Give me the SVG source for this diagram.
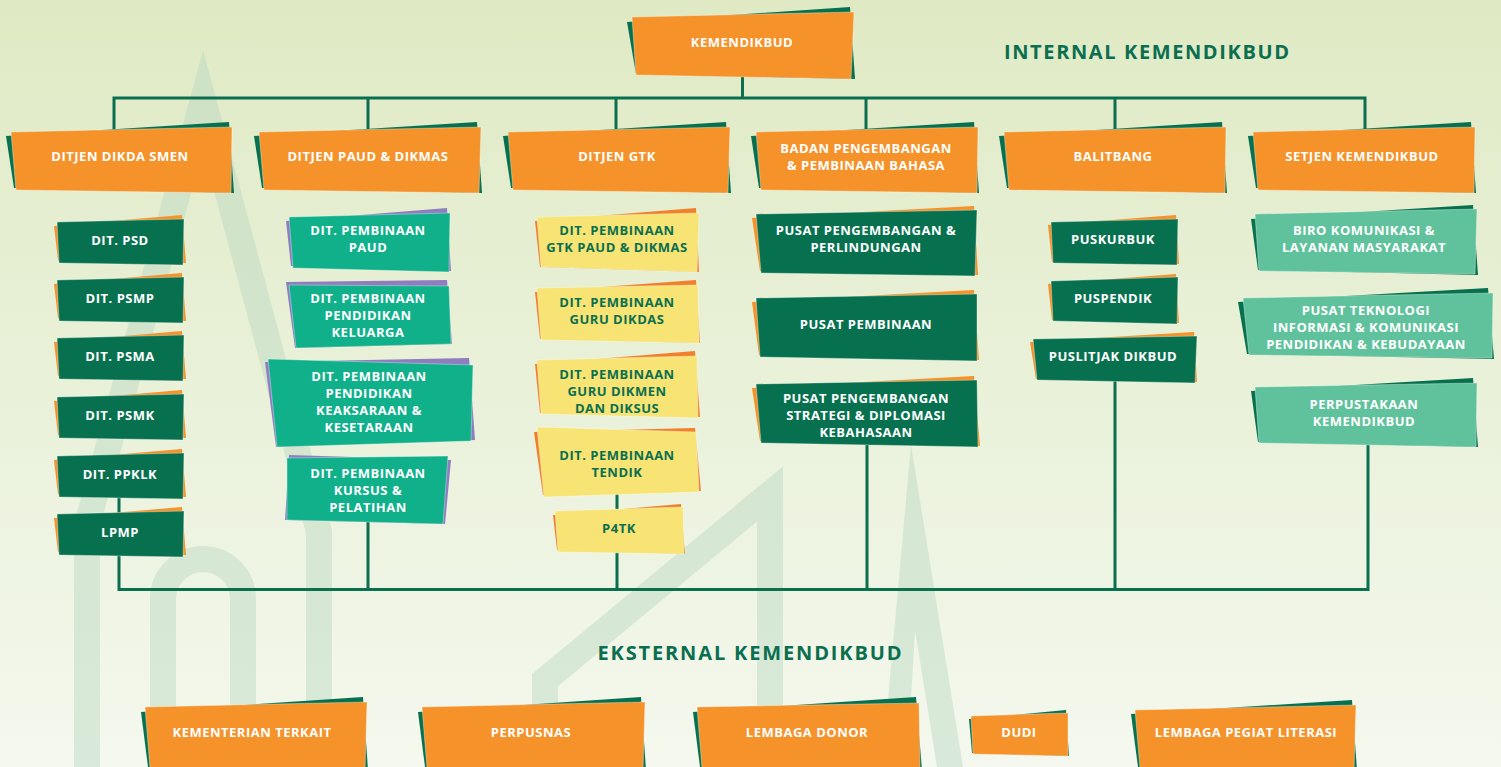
<svg xmlns="http://www.w3.org/2000/svg" width="1501" height="767" viewBox="0 0 1501 767">
<defs>
<linearGradient id="bgGrad" x1="0" y1="0" x2="0" y2="1">
<stop offset="0" stop-color="#dfeac4"/>
<stop offset="1" stop-color="#f4f8ee"/>
</linearGradient>
<style>
.deco{fill:none;stroke:#b8d8c0;stroke-opacity:0.45;stroke-width:26;stroke-linejoin:miter;stroke-miterlimit:10}
.decof{fill:#b8d8c0;fill-opacity:0.45;fill-rule:evenodd}
.o{fill:#f5922a}
.g{fill:#07714f}
.t{fill:#0fb08a}
.l{fill:#60c29c}
.y{fill:#f7e475}
.p{fill:#8e7ec0}
.oy{fill:#f1802b}
.main{stroke:#ffffff;stroke-opacity:0.35;stroke-width:1}
.conn{fill:none;stroke:#0a6e4f;stroke-width:3}
text{font-family:"Open Sans","Liberation Sans",sans-serif;font-weight:700;font-size:13px;letter-spacing:0.5px;text-anchor:middle}
.w{fill:#ffffff}
.d{fill:#0a6e4f}
.h{font-size:20px;fill:#0a6e4f;letter-spacing:1px}
</style>
</defs>
<rect x="0" y="0" width="1501" height="767" fill="url(#bgGrad)"/>
<g id="background">
<polyline class="deco" points="87,767 87,525 203,100 319,532 319,767"/>
<path class="deco" d="M163 767 V599 A40 40 0 0 1 243 599 V767"/>
<polyline class="deco" points="545,767 545,680 770,494 770,767"/>
<path class="decof" d="M882 767 L911 445 L963 767 Z M907 767 L915 630 L937 767 Z"/>
</g>
<text class="h" x="1147" y="59" textLength="286" lengthAdjust="spacing">INTERNAL KEMENDIKBUD</text>
<text class="h" x="750" y="660" textLength="305" lengthAdjust="spacing">EKSTERNAL KEMENDIKBUD</text>
<g id="connectors">
<path class="conn" d="M742.5 76 V98 M114 98 H1366 M114 96.5 V132 M368 98 V132 M616 98 V132 M866 98 V132 M1115 98 V132 M1365 96.5 V132"/>
<path class="conn" d="M119 589.5 H1368 M119 495 V591 M368 520 V591 M617 490 V591 M867 445 V591 M1115 380 V591 M1368 445 V591"/>
</g>
<g id="kemendikbud"><polygon class="g" points="627,22 850,7 855,79 636,74"/><polygon class="o main" points="632,17 854,12 851,79 636,75"/><text class="w" x="742" y="47">KEMENDIKBUD</text></g>
<g id="ditjen-dikda"><polygon class="g" points="6,136 229,122 234,193 14,188"/><polygon class="o main" points="11,132 232,127 231,193 16,190"/><text class="w" x="120" y="161">DITJEN DIKDA SMEN</text></g>
<g id="ditjen-paud"><polygon class="g" points="254,136 477,122 482,193 262,188"/><polygon class="o main" points="259,132 481,127 479,193 264,190"/><text class="w" x="368" y="161">DITJEN PAUD &amp; DIKMAS</text></g>
<g id="ditjen-gtk"><polygon class="g" points="503,136 726,122 731,193 511,188"/><polygon class="o main" points="508,132 730,127 728,193 513,190"/><text class="w" x="617" y="161">DITJEN GTK</text></g>
<g id="badan-bahasa"><polygon class="g" points="751,136 974,122 979,193 759,188"/><polygon class="o main" points="756,132 978,127 977,193 761,190"/><text class="w" x="866" y="153">BADAN PENGEMBANGAN</text><text class="w" x="866" y="170">&amp; PEMBINAAN BAHASA</text></g>
<g id="balitbang"><polygon class="g" points="999,136 1222,122 1227,193 1007,188"/><polygon class="o main" points="1004,132 1226,127 1225,193 1009,190"/><text class="w" x="1113" y="161">BALITBANG</text></g>
<g id="setjen"><polygon class="g" points="1248,136 1471,122 1476,193 1256,188"/><polygon class="o main" points="1253,132 1475,127 1474,193 1258,190"/><text class="w" x="1362" y="161">SETJEN KEMENDIKBUD</text></g>

<g id="dit-psd"><polygon class="o" points="54,226 182,215 186,263 58,260"/><polygon class="g main" points="57,222 184,219 183,265 59,263"/><text class="w" x="120" y="245">DIT. PSD</text></g>
<g id="dit-psmp"><polygon class="o" points="54,284 182,273 186,321 58,318"/><polygon class="g main" points="57,280 184,277 183,323 59,321"/><text class="w" x="120" y="303">DIT. PSMP</text></g>
<g id="dit-psma"><polygon class="o" points="54,342 182,331 186,379 58,376"/><polygon class="g main" points="57,338 184,335 183,381 59,379"/><text class="w" x="120" y="361">DIT. PSMA</text></g>
<g id="dit-psmk"><polygon class="o" points="54,401 182,390 186,438 58,435"/><polygon class="g main" points="57,397 184,394 183,440 59,438"/><text class="w" x="120" y="420">DIT. PSMK</text></g>
<g id="dit-ppklk"><polygon class="o" points="54,460 182,449 186,497 58,494"/><polygon class="g main" points="57,456 184,453 183,499 59,497"/><text class="w" x="120" y="479">DIT. PPKLK</text></g>
<g id="lpmp"><polygon class="o" points="54,518 182,507 186,555 58,552"/><polygon class="g main" points="57,514 184,511 183,557 59,555"/><text class="w" x="120" y="537">LPMP</text></g>

<g id="dit-paud"><polygon class="p" points="286,221 447,208 451,271 291,266"/><polygon class="t main" points="289,217 450,213 449,272 293,268"/><text class="w" x="368" y="235">DIT. PEMBINAAN</text><text class="w" x="368" y="252">PAUD</text></g>
<g id="dit-keluarga"><polygon class="p" points="286,282 447,280 452,344 295,348"/><polygon class="t main" points="289,285 449,286 451,344 296,348"/><text class="w" x="368" y="303">DIT. PEMBINAAN</text><text class="w" x="368" y="320">PENDIDIKAN</text><text class="w" x="368" y="337">KELUARGA</text></g>
<g id="dit-keaksaraan"><polygon class="p" points="265,362 469,358 475,440 276,447"/><polygon class="t main" points="268,359 473,365 471,441 277,447"/><text class="w" x="369" y="381">DIT. PEMBINAAN</text><text class="w" x="369" y="398">PENDIDIKAN</text><text class="w" x="369" y="415">KEAKSARAAN &amp;</text><text class="w" x="369" y="432">KESETARAAN</text></g>
<g id="dit-kursus"><polygon class="p" points="289,455 451,460 445,524 285,520"/><polygon class="t main" points="287,458 448,456 443,524 287,520"/><text class="w" x="368" y="478">DIT. PEMBINAAN</text><text class="w" x="368" y="495">KURSUS &amp;</text><text class="w" x="368" y="512">PELATIHAN</text></g>

<g id="dit-gtk-paud"><polygon class="oy" points="535,221 696,208 699,272 540,267"/><polygon class="y main" points="537,217 699,213 697,272 541,267"/><text class="d" x="617" y="235">DIT. PEMBINAAN</text><text class="d" x="617" y="252">GTK PAUD &amp; DIKMAS</text></g>
<g id="dit-guru-dikdas"><polygon class="oy" points="535,292 696,280 700,343 540,339"/><polygon class="y main" points="537,288 698,285 699,343 541,340"/><text class="d" x="617" y="307">DIT. PEMBINAAN</text><text class="d" x="617" y="324">GURU DIKDAS</text></g>
<g id="dit-guru-dikmen"><polygon class="oy" points="535,364 695,351 700,417 540,413"/><polygon class="y main" points="537,360 697,356 698,418 541,414"/><text class="d" x="617" y="379">DIT. PEMBINAAN</text><text class="d" x="617" y="396">GURU DIKMEN</text><text class="d" x="617" y="413">DAN DIKSUS</text></g>
<g id="dit-tendik"><polygon class="oy" points="534,432 695,428 701,491 543,495"/><polygon class="y main" points="537,427 696,432 699,492 544,497"/><text class="d" x="617" y="460">DIT. PEMBINAAN</text><text class="d" x="617" y="477">TENDIK</text></g>
<g id="p4tk"><polygon class="oy" points="553,515 681,504 685,554 557,550"/><polygon class="y main" points="555,511 683,507 684,554 558,552"/><text class="d" x="619" y="533">P4TK</text></g>

<g id="pusat-perlindungan"><polygon class="o" points="752,218 974,206 978,275 760,271"/><polygon class="g main" points="756,214 977,210 975,276 761,273"/><text class="w" x="866" y="235">PUSAT PENGEMBANGAN &amp;</text><text class="w" x="866" y="252">PERLINDUNGAN</text></g>
<g id="pusat-pembinaan"><polygon class="o" points="752,302 974,290 979,360 759,355"/><polygon class="g main" points="756,298 977,294 977,361 760,357"/><text class="w" x="866" y="329">PUSAT PEMBINAAN</text></g>
<g id="pusat-strategi"><polygon class="o" points="752,388 974,376 980,446 760,441"/><polygon class="g main" points="756,384 977,380 978,447 761,443"/><text class="w" x="866" y="403">PUSAT PENGEMBANGAN</text><text class="w" x="866" y="420">STRATEGI &amp; DIPLOMASI</text><text class="w" x="866" y="437">KEBAHASAAN</text></g>

<g id="puskurbuk"><polygon class="o" points="1048,225 1176,215 1179,264 1052,262"/><polygon class="g main" points="1051,222 1178,219 1177,265 1053,263"/><text class="w" x="1113" y="244">PUSKURBUK</text></g>
<g id="puspendik"><polygon class="o" points="1048,284 1176,274 1179,323 1052,320"/><polygon class="g main" points="1051,281 1178,277 1177,324 1053,321"/><text class="w" x="1113" y="303">PUSPENDIK</text></g>
<g id="puslitjak"><polygon class="o" points="1030,342 1194,332 1197,382 1036,379"/><polygon class="g main" points="1033,339 1197,336 1195,383 1037,380"/><text class="w" x="1113" y="361">PUSLITJAK DIKBUD</text></g>

<g id="biro-komunikasi"><polygon class="g" points="1251,219 1473,205 1478,275 1258,270"/><polygon class="l main" points="1255,214 1477,209 1475,274 1259,271"/><text class="w" x="1364" y="235">BIRO KOMUNIKASI &amp;</text><text class="w" x="1364" y="252">LAYANAN MASYARAKAT</text></g>
<g id="pusat-teknologi"><polygon class="g" points="1238,302 1488,288 1494,359 1247,354"/><polygon class="l main" points="1243,298 1493,293 1492,358 1249,355"/><text class="w" x="1366" y="315">PUSAT TEKNOLOGI</text><text class="w" x="1366" y="332">INFORMASI &amp; KOMUNIKASI</text><text class="w" x="1366" y="349">PENDIDIKAN &amp; KEBUDAYAAN</text></g>
<g id="perpustakaan"><polygon class="g" points="1251,391 1473,378 1478,447 1258,442"/><polygon class="l main" points="1255,387 1477,383 1476,447 1259,443"/><text class="w" x="1364" y="409">PERPUSTAKAAN</text><text class="w" x="1364" y="426">KEMENDIKBUD</text></g>

<g id="kementerian"><polygon class="g" points="141,712 363,697 368,770 148,767"/><polygon class="o main" points="145,707 367,702 365,770 150,768"/><text class="w" x="252" y="737">KEMENTERIAN TERKAIT</text></g>
<g id="perpusnas"><polygon class="g" points="418,712 641,697 646,770 425,767"/><polygon class="o main" points="422,707 645,702 643,770 427,768"/><text class="w" x="531" y="737">PERPUSNAS</text></g>
<g id="lembaga-donor"><polygon class="g" points="693,712 916,697 922,770 700,767"/><polygon class="o main" points="697,707 919,703 920,770 702,768"/><text class="w" x="807" y="737">LEMBAGA DONOR</text></g>
<g id="dudi"><polygon class="g" points="969,719 1066,710 1069,756 972,753"/><polygon class="o main" points="971,716 1068,713 1068,756 973,754"/><text class="w" x="1019" y="737">DUDI</text></g>
<g id="lembaga-pegiat"><polygon class="g" points="1131,714 1352,700 1357,770 1138,767"/><polygon class="o main" points="1135,710 1356,705 1354,770 1140,768"/><text class="w" x="1246" y="737">LEMBAGA PEGIAT LITERASI</text></g>
</svg>
